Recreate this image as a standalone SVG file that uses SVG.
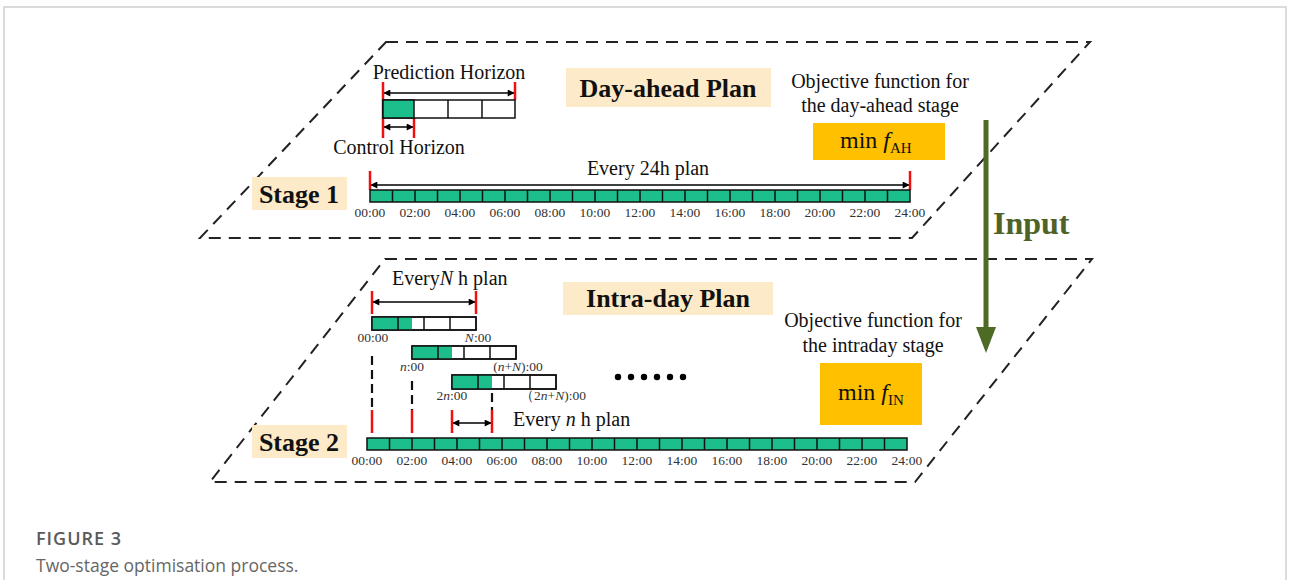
<svg xmlns="http://www.w3.org/2000/svg" width="1290" height="580" viewBox="0 0 1290 580">
<defs>
<marker id="ah" viewBox="0 0 10 10" refX="9" refY="5" markerWidth="9" markerHeight="7" markerUnits="userSpaceOnUse" orient="auto-start-reverse">
<path d="M0,0 L10,5 L0,10 z" fill="#000"/>
</marker>
</defs>
<style>
.plane{fill:none;stroke:#222;stroke-width:2;stroke-dasharray:12 8}
.tx{font-family:"Liberation Serif","Times New Roman",serif;fill:#111}
.t20{font-size:20px}
.tb{font-weight:bold;font-size:26px}
.tm{font-size:13.5px;fill:#333;text-anchor:middle}
.beige{fill:#FCEAC8}
.orange{fill:#FFC000}
.cell{fill:#1CBF8C;stroke:#111;stroke-width:1.5}
.wcell{fill:#fff;stroke:#111;stroke-width:1.5}
.div{stroke:#111;stroke-width:1.5}
.red{stroke:#F01010;stroke-width:2.5}
.arr{stroke:#000;stroke-width:1.5;fill:none;marker-start:url(#ah);marker-end:url(#ah)}
.vd{stroke:#111;stroke-width:2.2;stroke-dasharray:9 5}
.cap{font-family:"Open Sans","Liberation Sans",sans-serif}
</style>
<rect x="0" y="0" width="1290" height="580" fill="#fff"/>
<rect x="4" y="7" width="1282" height="600" fill="none" stroke="#d0d0d0" stroke-width="1.5"/>

<g id="connectors">
<polygon class="plane" points="386,42 1090,42 912,238 200,238"/>
<polygon class="plane" points="385,259 1092,259 915,482 210,482"/>
<line class="arr" x1="384" y1="93" x2="514" y2="93"/>
<line class="arr" x1="384" y1="127" x2="413" y2="127"/>
<line class="arr" x1="371" y1="185" x2="909" y2="185"/>
<line class="arr" x1="373" y1="302" x2="475" y2="302"/>
<line class="arr" x1="453" y1="423" x2="491" y2="423"/>
<line class="vd" x1="372" y1="356" x2="372" y2="410"/>
<line class="vd" x1="412" y1="381" x2="412" y2="410"/>
<line class="vd" x1="492" y1="393" x2="492" y2="410"/>
<g id="input-arrow">
<line x1="986" y1="120" x2="986" y2="330" stroke="#4E6B26" stroke-width="5"/>
<polygon points="976,327 996,327 986,353" fill="#4E6B26"/>
<text x="993" y="234" class="tx" style="font-size:32px;font-weight:bold;fill:#4F6228">Input</text>
</g>
</g>

<g id="stage1">
<g id="dayahead-label">
<rect class="beige" x="566" y="68" width="205" height="39"/>
<text x="668" y="97" class="tx tb" text-anchor="middle">Day-ahead Plan</text>
</g>
<g id="prediction-horizon">
<text x="449" y="79" class="tx t20" text-anchor="middle">Prediction Horizon</text>
<line class="red" x1="383" y1="82" x2="383" y2="138"/>
<line class="red" x1="515" y1="82" x2="515" y2="100"/>
<line class="red" x1="414" y1="118" x2="414" y2="138"/>
<rect class="wcell" x="383" y="100" width="132" height="18"/>
<rect class="cell" x="383" y="100" width="31" height="18"/>
<line class="div" x1="448" y1="100" x2="448" y2="118"/>
<line class="div" x1="482" y1="100" x2="482" y2="118"/>
<text x="399" y="154" class="tx t20" text-anchor="middle">Control Horizon</text>
</g>
<g id="stage1-label">
<rect class="beige" x="252" y="177" width="95" height="33"/>
<text x="299" y="203" class="tx tb" text-anchor="middle">Stage 1</text>
</g>
<g id="objective-ah">
<text x="880" y="88" class="tx t20" text-anchor="middle">Objective function for</text>
<text x="880" y="112" class="tx t20" text-anchor="middle">the day-ahead stage</text>
<rect class="orange" x="813" y="123" width="132" height="37"/>
<text x="840" y="148" class="tx" style="font-size:24px">min <tspan font-style="italic">f</tspan><tspan font-size="15" dy="5">AH</tspan></text>
</g>
<g id="timeline1">
<text x="648" y="175" class="tx t20" text-anchor="middle">Every 24h plan</text>
<line class="red" x1="370" y1="171" x2="370" y2="190"/>
<line class="red" x1="910" y1="171" x2="910" y2="190"/>
<rect class="cell" x="370" y="190" width="540" height="12"/>
<path class="div" d="M392.5,190v12M415,190v12M437.5,190v12M460,190v12M482.5,190v12M505,190v12M527.5,190v12M550,190v12M572.5,190v12M595,190v12M617.5,190v12M640,190v12M662.5,190v12M685,190v12M707.5,190v12M730,190v12M752.5,190v12M775,190v12M797.5,190v12M820,190v12M842.5,190v12M865,190v12M887.5,190v12"/>
<text class="tx tm" y="217"><tspan x="370">00:00</tspan><tspan x="415">02:00</tspan><tspan x="460">04:00</tspan><tspan x="505">06:00</tspan><tspan x="550">08:00</tspan><tspan x="595">10:00</tspan><tspan x="640">12:00</tspan><tspan x="685">14:00</tspan><tspan x="730">16:00</tspan><tspan x="775">18:00</tspan><tspan x="820">20:00</tspan><tspan x="865">22:00</tspan><tspan x="910">24:00</tspan></text>
</g>
</g>

<g id="stage2">
<g id="intraday-label">
<rect class="beige" x="563" y="282" width="210" height="33"/>
<text x="668" y="307" class="tx tb" text-anchor="middle">Intra-day Plan</text>
</g>
<g id="everyN">
<text x="392" y="285" class="tx t20">Every<tspan font-style="italic">N</tspan> h plan</text>
<line class="red" x1="372" y1="291" x2="372" y2="314"/>
<line class="red" x1="476" y1="291" x2="476" y2="314"/>
</g>
<g id="row1">
<rect class="wcell" x="372" y="317" width="104" height="13"/>
<rect x="372" y="317" width="40" height="13" fill="#1CBF8C"/>
<rect x="372" y="317" width="104" height="13" fill="none" stroke="#111" stroke-width="1.5"/>
<path class="div" d="M398,317v13M424,317v13M450,317v13"/>
<text class="tx tm" x="373" y="342">00:00</text>
<text class="tx tm" x="478" y="342"><tspan font-style="italic">N</tspan>:00</text>
</g>
<g id="row2">
<rect class="wcell" x="412" y="346" width="104" height="13"/>
<rect x="412" y="346" width="40" height="13" fill="#1CBF8C"/>
<rect x="412" y="346" width="104" height="13" fill="none" stroke="#111" stroke-width="1.5"/>
<path class="div" d="M438,346v13M464,346v13M490,346v13"/>
<text class="tx tm" x="412" y="371"><tspan font-style="italic">n</tspan>:00</text>
<text class="tx tm" x="518" y="371">(<tspan font-style="italic">n</tspan>+<tspan font-style="italic">N</tspan>):00</text>
</g>
<g id="row3">
<rect class="wcell" x="452" y="375" width="104" height="14"/>
<rect x="452" y="375" width="40" height="14" fill="#1CBF8C"/>
<rect x="452" y="375" width="104" height="14" fill="none" stroke="#111" stroke-width="1.5"/>
<path class="div" d="M478,375v14M504,375v14M530,375v14"/>
<text class="tx tm" x="452" y="400">2<tspan font-style="italic">n</tspan>:00</text>
<text class="tx tm" x="553" y="400">（2<tspan font-style="italic">n</tspan>+<tspan font-style="italic">N</tspan>):00</text>
</g>
<g id="dots">
<circle cx="618" cy="377" r="3.2" fill="#000"/>
<circle cx="631" cy="377" r="3.2" fill="#000"/>
<circle cx="644" cy="377" r="3.2" fill="#000"/>
<circle cx="657" cy="377" r="3.2" fill="#000"/>
<circle cx="670" cy="377" r="3.2" fill="#000"/>
<circle cx="683" cy="377" r="3.2" fill="#000"/>
</g>
<g id="everyn">
<line class="red" x1="372" y1="410" x2="372" y2="433"/>
<line class="red" x1="412" y1="410" x2="412" y2="433"/>
<line class="red" x1="452" y1="410" x2="452" y2="433"/>
<line class="red" x1="492" y1="410" x2="492" y2="433"/>
<text x="513" y="426" class="tx t20">Every <tspan font-style="italic">n</tspan> h plan</text>
</g>
<g id="stage2-label">
<rect class="beige" x="252" y="425" width="95" height="33"/>
<text x="299" y="451" class="tx tb" text-anchor="middle">Stage 2</text>
</g>
<g id="objective-in">
<text x="873" y="327" class="tx t20" text-anchor="middle">Objective function for</text>
<text x="873" y="352" class="tx t20" text-anchor="middle">the intraday stage</text>
<rect class="orange" x="820" y="363" width="102" height="62"/>
<text x="838" y="400" class="tx" style="font-size:24px">min <tspan font-style="italic">f</tspan><tspan font-size="15" dy="5">IN</tspan></text>
</g>
<g id="timeline2">
<rect class="cell" x="367" y="438" width="540" height="12"/>
<path class="div" d="M389.5,438v12M412,438v12M434.5,438v12M457,438v12M479.5,438v12M502,438v12M524.5,438v12M547,438v12M569.5,438v12M592,438v12M614.5,438v12M637,438v12M659.5,438v12M682,438v12M704.5,438v12M727,438v12M749.5,438v12M772,438v12M794.5,438v12M817,438v12M839.5,438v12M862,438v12M884.5,438v12"/>
<text class="tx tm" y="465"><tspan x="367">00:00</tspan><tspan x="412">02:00</tspan><tspan x="457">04:00</tspan><tspan x="502">06:00</tspan><tspan x="547">08:00</tspan><tspan x="592">10:00</tspan><tspan x="637">12:00</tspan><tspan x="682">14:00</tspan><tspan x="727">16:00</tspan><tspan x="772">18:00</tspan><tspan x="817">20:00</tspan><tspan x="862">22:00</tspan><tspan x="907">24:00</tspan></text>
</g>
</g>

<g id="caption">
<text x="36" y="545" class="cap" style="font-size:18px;font-weight:600;fill:#5a5a5a;letter-spacing:1px">FIGURE 3</text>
<text x="36" y="572" class="cap" style="font-size:17.5px;fill:#666">Two-stage optimisation process.</text>
</g>
</svg>
